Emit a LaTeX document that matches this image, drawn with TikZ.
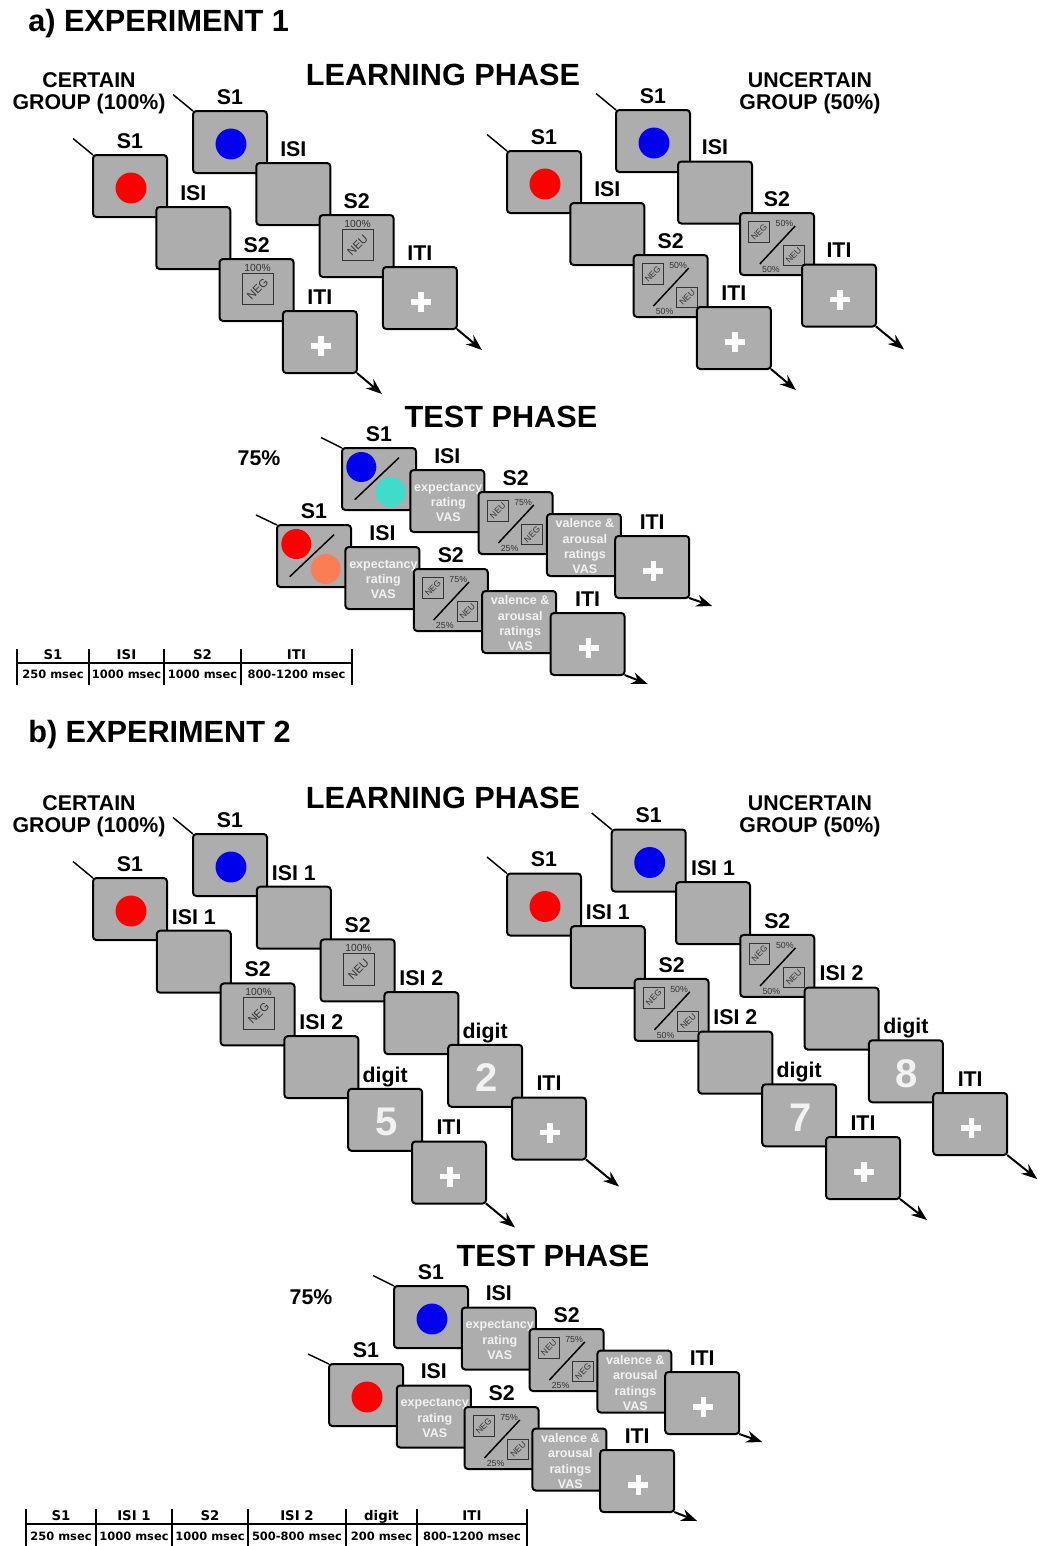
\documentclass[tikz,border=0pt]{standalone}
\usepackage{fontspec}
\setmainfont{Liberation Sans}
\newfontfamily\tabfont{DejaVu Sans}
\usetikzlibrary{arrows.meta}
\definecolor{scrgray}{HTML}{ADADAD}
\definecolor{tagdark}{HTML}{333333}
\definecolor{dotred}{HTML}{FF0000}
\definecolor{dotblue}{HTML}{0000EE}
\definecolor{dotteal}{HTML}{40DCCB}
\definecolor{dotcoral}{HTML}{FA7D55}
\definecolor{wordgray}{HTML}{F2F2F2}
\tikzset{
  screen/.style  = { draw, line width=1.5pt, fill=scrgray, rounded corners=2.5pt,
                     minimum width=55.5pt, minimum height=46.5pt, inner sep=0pt,
                     outer sep=0pt, anchor=north west },
  lab/.style     = { font=\bfseries\fontsize{16}{18}\selectfont, anchor=base, inner sep=0pt },
  title/.style   = { font=\bfseries\fontsize{23}{26}\selectfont, inner sep=0pt },
  group/.style   = { font=\bfseries\fontsize{16}{16.5}\selectfont, align=center, inner sep=0pt },
  pct/.style     = { font=\fontsize{7.7}{8}\selectfont, text=tagdark, inner sep=0pt },
  spct/.style    = { font=\fontsize{6.6}{7}\selectfont, text=tagdark, inner sep=0pt },
  tagbox/.style  = { draw=tagdark, line width=0.6pt, minimum size=23.5pt, inner sep=0pt,
                     font=\fontsize{8.5}{9}\selectfont, text=tagdark },
  stagbox/.style = { draw=tagdark, line width=0.6pt, minimum size=15.5pt, inner sep=0pt,
                     font=\fontsize{6.4}{7}\selectfont, text=tagdark },
  words/.style   = { font=\bfseries\fontsize{9.4}{11.5}\selectfont, text=wordgray,
                     align=center, inner sep=0pt },
  num/.style     = { font=\bfseries\fontsize{30}{30}\selectfont, text=wordgray, inner sep=0pt },
  plus/.style    = { draw=white, line width=4pt },
  startline/.style = { line width=1.1pt },
  endarrow/.style  = { line width=1.5pt, -{Stealth[length=12pt, width=9pt]} },
  bar/.style     = { line width=1.5pt },
  thead/.style   = { font=\tabfont\bfseries\fontsize{10}{11}\selectfont, anchor=base, inner sep=0pt },
  tcell/.style   = { font=\tabfont\bfseries\fontsize{8.6}{9}\selectfont, anchor=base, inner sep=0pt }
}

% contents of one screen; the last argument is the screen's name
\newcommand{\blank}[1]{}
\newcommand{\dotc}[2]{\fill[#1] ([shift={(38,33)}]#2.north west) circle[radius=11.6pt];}
\newcommand{\twodot}[3]{%
  \begin{scope}[shift={(#3.north west)}]
    \draw[line width=1.1pt] (12.7,51.7) -- (57,9.7);
    \fill[#1] (19.3,19) circle[radius=11.25pt];
    \fill[#2] (48.7,44) circle[radius=11.25pt];
  \end{scope}}
\newcommand{\sure}[2]{%
  \begin{scope}[shift={(#2.north west)}]
    \node[pct] (#2p) at (38,8.5) {100\%};
    \node[tagbox] (#2t) at (38,30) {\rotatebox{45}{#1}};
  \end{scope}}
\newcommand{\halves}[5]{%
  \begin{scope}[shift={(#5.north west)}]
    \draw[line width=1.1pt] (19.8,51) -- (55.2,13);
    \node[stagbox] (#5a) at (19.2,18.8) {\rotatebox{45}{#1}};
    \node[stagbox] (#5b) at (53.6,42.4) {\rotatebox{45}{#2}};
    \node[spct] (#5ap) at (44.5,10.2) {#3};
    \node[spct] (#5bp) at (31,56.6) {#4};
  \end{scope}}
\newcommand{\words}[2]{\node[words] (#2w) at ([shift={(38,32.5)}]#2.north west) {#1};}
\newcommand{\bignum}[2]{\node[num] (#2n) at ([shift={(38,33)}]#2.north west) {#1};}
\newcommand{\plusmark}[1]{%
  \draw[plus] ([shift={(28,35)}]#1.north west) -- ([shift={(48,35)}]#1.north west);
  \draw[plus] ([shift={(38,25)}]#1.north west) -- ([shift={(38,45)}]#1.north west);}

% one trial: prefix, x0, y0, dx, dy, last index, start vector, end vector, screens
\newcommand{\trial}[9]{%
  \foreach \lab/\cont [count=\i from 0] in {#9} {%
    \pgfmathsetmacro\px{#2+\i*#4}%
    \pgfmathsetmacro\py{#3+\i*#5}%
    \node[screen] (#1\i) at (\px,\py) {};
    \edef\tmp{\lab}%
    \ifx\tmp\empty\else
      \node[lab] (#1\i l) at ([yshift=5pt]#1\i.north) {\lab};
    \fi
    \cont{#1\i}%
  }
  \coordinate (#1s) at ([shift={(#7)}]#10.north west);
  \coordinate (#1e) at ([shift={(#8)}]#1#6.south east);
  \draw[startline] (#1s) -- (#10.north west);
  \draw[endarrow] (#1#6.south east) -- (#1e);
}

\begin{document}
\begin{tikzpicture}[x=0.75pt, y=-0.75pt]
\useasboundingbox (0,0) rectangle (1045,1546);

% a) experiment 1
\node[title, anchor=base west] (expa) at (28,31) {a) EXPERIMENT 1};
\node[title, anchor=base] (learna) at (443,85) {LEARNING PHASE};
\node[group] (certa) at (89,93) {CERTAIN\\GROUP (100\%)};
\node[group] (uncerta) at (810,93) {UNCERTAIN\\GROUP (50\%)};

\trial{cr}{93}{155}{63.3}{52}{3}{-20,-16.5}{25,21}{S1/\dotc{dotred}, ISI/\blank, S2/\sure{NEG}, ITI/\plusmark}
\trial{cb}{193}{111}{63.3}{52}{3}{-20,-16.5}{25,21}{S1/\dotc{dotblue}, ISI/\blank, S2/\sure{NEU}, ITI/\plusmark}
\trial{ur}{507}{151}{63.3}{52}{3}{-20,-16.5}{25,21}{S1/\dotc{dotred}, ISI/\blank, S2/\halves{NEG}{NEU}{50\%}{50\%}, ITI/\plusmark}
\trial{ub}{616}{110}{62}{51.5}{3}{-20,-16.5}{28,23}{S1/\dotc{dotblue}, ISI/\blank, S2/\halves{NEG}{NEU}{50\%}{50\%}, ITI/\plusmark}

\node[title, anchor=base] (testa) at (501,427) {TEST PHASE};
\node[lab] (pcta) at (259,465.5) {75\%};
\trial{tb}{342}{448}{68.3}{22}{4}{-21,-10.5}{23,8}{S1/\twodot{dotblue}{dotteal}, ISI/\words{expectancy\\rating\\VAS}, S2/\halves{NEU}{NEG}{75\%}{25\%}, /\words{valence \&\\arousal\\ratings\\VAS}, ITI/\plusmark}
\trial{tr}{277}{525}{68.4}{22}{4}{-21,-10}{23,9}{S1/\twodot{dotred}{dotcoral}, ISI/\words{expectancy\\rating\\VAS}, S2/\halves{NEG}{NEU}{75\%}{25\%}, /\words{valence \&\\arousal\\ratings\\VAS}, ITI/\plusmark}

% timeline a
\draw[bar] (17,663) -- (352,663);
\foreach \a/\b/\h/\m [count=\k] in {17/89/S1/250 msec, 89/164/ISI/1000 msec, 164/241/S2/1000 msec, 241/352/ITI/800-1200 msec} {
  \draw[bar] (\a,649) -- (\a,685);
  \node[thead] (ah\k) at ({(\a+\b)/2},659.5) {\h};
  \node[tcell] (am\k) at ({(\a+\b)/2},678) {\m};
}
\draw[bar] (352,649) -- (352,685);

% b) experiment 2
\node[title, anchor=base west] (expb) at (28,742) {b) EXPERIMENT 2};
\node[title, anchor=base] (learnb) at (443,808) {LEARNING PHASE};
\node[group] (certb) at (89,816) {CERTAIN\\GROUP (100\%)};
\node[group] (uncertb) at (810,816) {UNCERTAIN\\GROUP (50\%)};

\trial{dr}{93}{878}{63.8}{52.7}{5}{-20,-16.5}{29,24}{S1/\dotc{dotred}, ISI 1/\blank, S2/\sure{NEG}, ISI 2/\blank, digit/\bignum{5}, ITI/\plusmark}
\trial{db}{193}{834}{63.8}{52.7}{5}{-20,-16.5}{33,27}{S1/\dotc{dotblue}, ISI 1/\blank, S2/\sure{NEU}, ISI 2/\blank, digit/\bignum{2}, ITI/\plusmark}
\trial{er}{507}{873.5}{63.8}{52.7}{5}{-20,-16.5}{27,21}{S1/\dotc{dotred}, ISI 1/\blank, S2/\halves{NEG}{NEU}{50\%}{50\%}, ISI 2/\blank, digit/\bignum{7}, ITI/\plusmark}
\trial{eb}{611.7}{829.5}{64.3}{52.7}{5}{-20,-16.5}{30,24}{S1/\dotc{dotblue}, ISI 1/\blank, S2/\halves{NEG}{NEU}{50\%}{50\%}, ISI 2/\blank, digit/\bignum{8}, ITI/\plusmark}

\node[title, anchor=base] (testb) at (553,1266) {TEST PHASE};
\node[lab] (pctb) at (311,1304.5) {75\%};
\trial{fb}{394}{1286}{67.8}{21.5}{4}{-21,-10.5}{23,8}{S1/\dotc{dotblue}, ISI/\words{expectancy\\rating\\VAS}, S2/\halves{NEU}{NEG}{75\%}{25\%}, /\words{valence \&\\arousal\\ratings\\VAS}, ITI/\plusmark}
\trial{fr}{329}{1364}{67.8}{21.5}{4}{-21,-10}{23,9}{S1/\dotc{dotred}, ISI/\words{expectancy\\rating\\VAS}, S2/\halves{NEG}{NEU}{75\%}{25\%}, /\words{valence \&\\arousal\\ratings\\VAS}, ITI/\plusmark}

% timeline b
\draw[bar] (26,1524) -- (527,1524);
\foreach \a/\b/\h/\m [count=\k] in {26/96/S1/250 msec, 96/172/ISI 1/1000 msec, 172/248/S2/1000 msec, 248/346/ISI 2/500-800 msec, 346/417/digit/200 msec, 417/527/ITI/800-1200 msec} {
  \draw[bar] (\a,1509) -- (\a,1547);
  \node[thead] (bh\k) at ({(\a+\b)/2},1520.5) {\h};
  \node[tcell] (bm\k) at ({(\a+\b)/2},1540) {\m};
}
\draw[bar] (527,1509) -- (527,1547);
\end{tikzpicture}
\end{document}
